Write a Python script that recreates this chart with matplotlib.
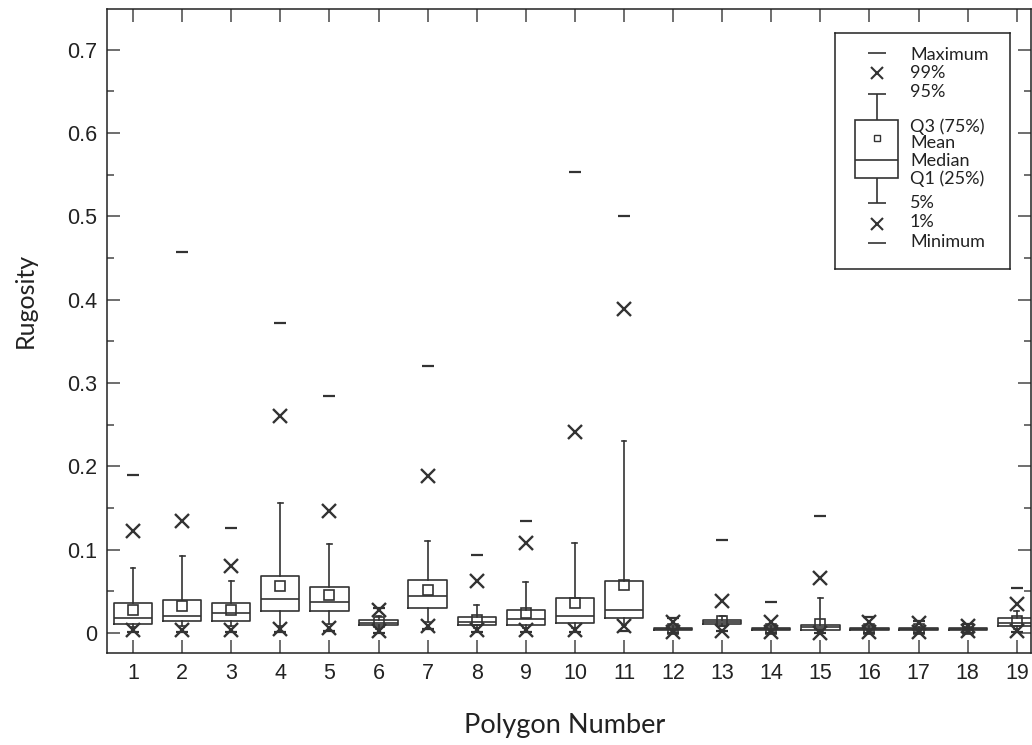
import numpy as np
import matplotlib
matplotlib.use("Agg")
import matplotlib.pyplot as plt
from matplotlib.ticker import MultipleLocator
from matplotlib.patches import Rectangle

# percentile summary per polygon
polygons = list(range(1, 20))
p_max = [0.190, 0.457, 0.126, 0.372, 0.285, 0.030, 0.320, 0.094, 0.134, 0.553,
         0.501, 0.018, 0.112, 0.037, 0.141, 0.019, 0.014, 0.011, 0.054]
p99 = [0.123, 0.135, 0.081, 0.260, 0.146, 0.028, 0.188, 0.063, 0.108, 0.241,
       0.389, 0.013, 0.039, 0.013, 0.066, 0.013, 0.012, 0.009, 0.035]
p95 = [0.078, 0.092, 0.062, 0.156, 0.107, 0.020, 0.110, 0.034, 0.061, 0.108,
       0.230, 0.008, 0.020, 0.008, 0.042, 0.008, 0.007, 0.007, 0.026]
q3 = [0.036, 0.040, 0.036, 0.068, 0.055, 0.016, 0.064, 0.019, 0.028, 0.042,
      0.062, 0.006, 0.016, 0.006, 0.0096, 0.006, 0.006, 0.006, 0.018]
means = [0.028, 0.033, 0.028, 0.056, 0.046, 0.013, 0.052, 0.016, 0.024, 0.036,
         0.058, 0.005, 0.015, 0.005, 0.011, 0.005, 0.005, 0.005, 0.014]
medians = [0.018, 0.021, 0.024, 0.041, 0.037, 0.012, 0.044, 0.013, 0.017, 0.021,
           0.028, 0.005, 0.013, 0.005, 0.007, 0.005, 0.005, 0.005, 0.012]
q1 = [0.011, 0.014, 0.014, 0.026, 0.026, 0.010, 0.030, 0.010, 0.010, 0.012,
      0.018, 0.004, 0.011, 0.004, 0.004, 0.004, 0.004, 0.004, 0.008]
p5 = [0.007, 0.008, 0.008, 0.008, 0.011, 0.005, 0.013, 0.006, 0.006, 0.006,
      0.010, 0.002, 0.008, 0.002, 0.002, 0.002, 0.002, 0.002, 0.005]
p1 = [0.004, 0.004, 0.004, 0.005, 0.006, 0.003, 0.008, 0.004, 0.004, 0.004,
      0.008, 0.001, 0.003, 0.001, 0.000, 0.001, 0.001, 0.002, 0.003]
p_min = [0.001, 0.001, 0.001, 0.001, 0.002, 0.000, 0.005, 0.001, 0.001, 0.001,
         0.003, 0.000, 0.002, 0.000, 0.000, 0.000, 0.000, 0.000, 0.001]

ytick_vals = [0, 0.1, 0.2, 0.3, 0.4, 0.5, 0.6, 0.7]
ytick_labels = ['0', '0.1', '0.2', '0.3', '0.4', '0.5', '0.6', '0.7']

legend_labels = ['Maximum', '99%', '95%', 'Q3 (75%)', 'Mean', 'Median',
                 'Q1 (25%)', '5%', '1%', 'Minimum']

ink = '#333333'
tick_font = ['Liberation Sans Narrow', 'Liberation Sans', 'DejaVu Sans']
label_font = ['Lato', 'DejaVu Sans']

W, H = 1032, 745
fig = plt.figure(figsize=(W / 100, H / 100), dpi=100)
ax = fig.add_axes([107 / W, 1 - 653 / H, (1031 - 107) / W, (653 - 9) / H])

stats = []
for i in range(len(polygons)):
    stats.append(dict(med=medians[i], q1=q1[i], q3=q3[i], whislo=p5[i],
                      whishi=p95[i], mean=means[i], fliers=[]))

ax.bxp(stats, positions=polygons, widths=0.78, capwidths=0.1,
       showmeans=True, showfliers=False,
       boxprops=dict(color=ink, linewidth=1.2),
       medianprops=dict(color=ink, linewidth=1.2),
       whiskerprops=dict(color=ink, linewidth=1.2),
       capprops=dict(color=ink, linewidth=1.2),
       meanprops=dict(marker='s', markerfacecolor='none', markeredgecolor=ink,
                      markersize=6.5, markeredgewidth=1.2))

ax.plot(polygons, p99, 'x', color=ink, ms=9.5, mew=1.7, zorder=4)
ax.plot(polygons, p1, 'x', color=ink, ms=9.5, mew=1.7, zorder=4)
ax.plot(polygons, p_max, '_', color=ink, ms=8, mew=1.6, zorder=4)
ax.plot(polygons, p_min, '_', color=ink, ms=8, mew=1.6, zorder=4)

ax.set_xlim(0.47, 19.29)
ax.set_ylim(-0.024, 0.749)
ax.set_xticks(polygons)
ax.set_xticklabels([str(p) for p in polygons])
ax.set_yticks(ytick_vals)
ax.set_yticklabels(ytick_labels)
ax.yaxis.set_minor_locator(MultipleLocator(0.05))
ax.tick_params(axis='both', which='major', direction='in', top=True, right=True,
               length=9.5, width=1.2, color='#555555', pad=7, labelsize=15.5,
               labelcolor='#222222')
ax.tick_params(axis='y', which='minor', direction='in', right=True,
               length=5, width=1.2, color='#555555')
for lab in ax.get_xticklabels() + ax.get_yticklabels():
    lab.set_family(tick_font)
for sp in ax.spines.values():
    sp.set_color('#222222')
    sp.set_linewidth(1.1)

fig.text(33 / W, 1 - 300 / H, 'Rugosity', rotation=90, rotation_mode='anchor',
         ha='center', va='baseline', fontsize=18, family=label_font, color='#222222')
fig.text(565 / W, 1 - 733 / H, 'Polygon Number', ha='center', va='baseline',
         fontsize=19.5, family=label_font, color='#222222')

# legend drawn in its own pixel-coordinate axes
lx0, lx1, ly0, ly1 = 835, 1010, 33, 269
lg = fig.add_axes([lx0 / W, 1 - ly1 / H, (lx1 - lx0) / W, (ly1 - ly0) / H])
lg.set_xlim(lx0, lx1)
lg.set_ylim(ly1, ly0)
lg.set_xticks([])
lg.set_yticks([])
for sp in lg.spines.values():
    sp.set_color('#222222')
    sp.set_linewidth(1.1)

cx = 877
lg.hlines([53, 94, 203, 243], cx - 9, cx + 9, color=ink, lw=1.2)
lg.vlines(cx, 94, 120, color=ink, lw=1.2)
lg.vlines(cx, 178, 203, color=ink, lw=1.2)
lg.add_patch(Rectangle((855, 120), 43, 58, fill=False, ec=ink, lw=1.2))
lg.hlines(160, 855, 898, color=ink, lw=1.2)
lg.plot([cx], [138], 's', mfc='white', mec=ink, ms=4.5, mew=1)
lg.plot([cx, cx], [73, 224], 'x', color=ink, ms=9, mew=1.5)

text_y = [55, 73, 92, 127, 143, 161, 179, 203, 222, 242]
for lab, ty in zip(legend_labels, text_y):
    lg.text(910, ty, lab, ha='left', va='center', fontsize=13,
            family=label_font, color='#222222')

fig.savefig('out.png', dpi=100)
